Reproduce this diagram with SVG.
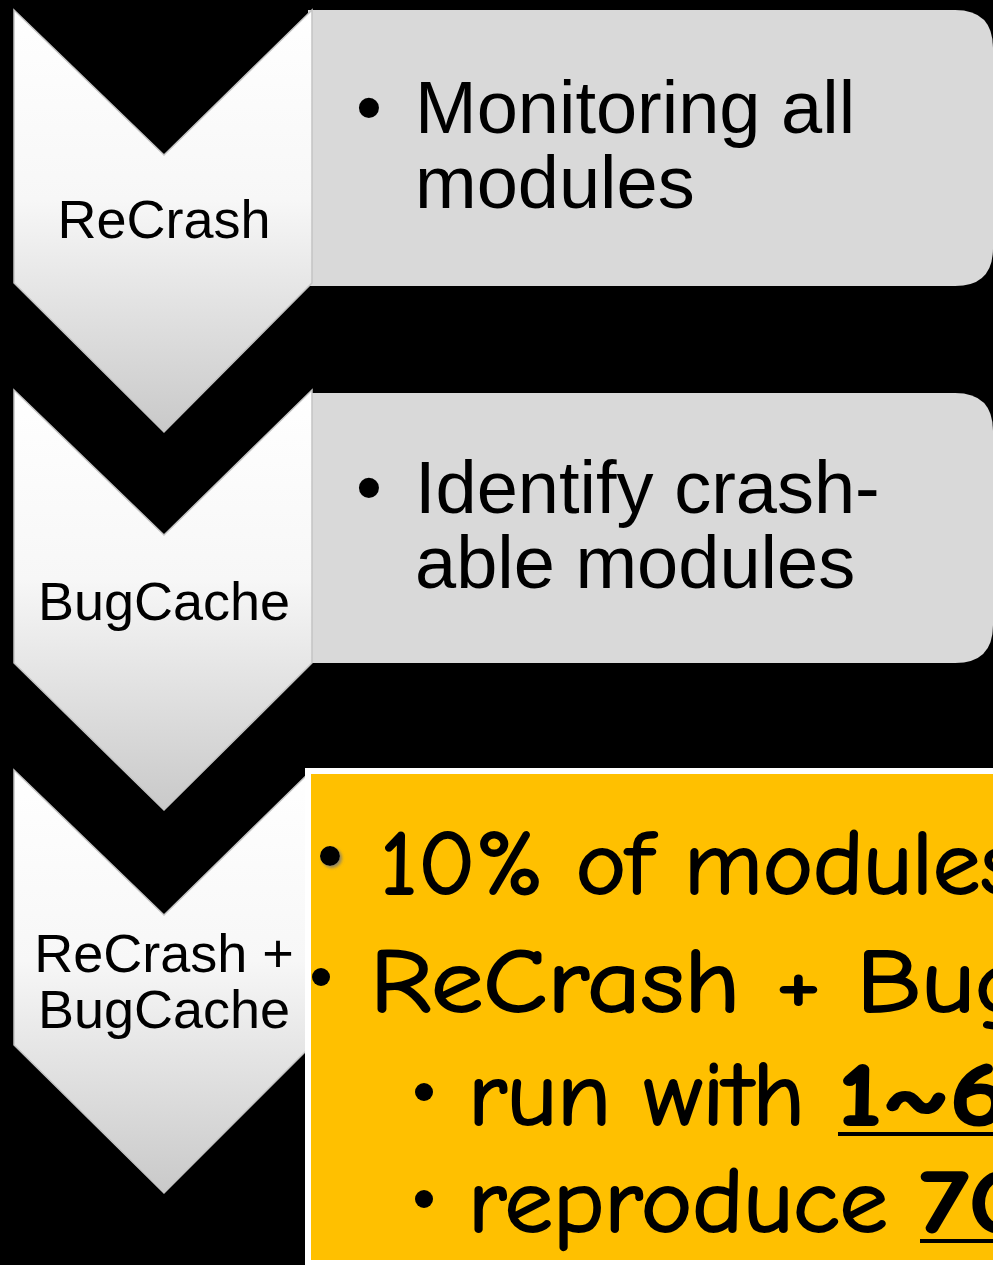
<svg xmlns="http://www.w3.org/2000/svg" width="993" height="1265" viewBox="0 0 993 1265">
  <defs>
    <linearGradient id="chevFill" x1="0" y1="0" x2="0" y2="1">
      <stop offset="0" stop-color="#ffffff"/>
      <stop offset="0.45" stop-color="#f7f7f7"/>
      <stop offset="1" stop-color="#c9c9c9"/>
    </linearGradient>
    <filter id="bulletShadow" x="-50%" y="-50%" width="200%" height="200%">
      <feDropShadow dx="2" dy="2" stdDeviation="1.5" flood-color="#777" flood-opacity="0.8"/>
    </filter>
  </defs>
  <style>
    .chev { fill: url(#chevFill); stroke: #c4c4c4; stroke-width: 1.5; }
    .box { fill: #d9d9d9; }
    .label { font-family: "Liberation Sans", Arial, sans-serif; font-size: 54px; fill: #000; text-anchor: middle; }
    .body { font-family: "Liberation Sans", Arial, sans-serif; font-size: 74px; fill: #000; }
    .hand { font-family: "Comic Sans MS", "Comic Neue", "DejaVu Sans", sans-serif; font-size: 90px; fill: #000; stroke: #000; stroke-width: 2; }
  </style>

  <rect x="0" y="0" width="993" height="1265" fill="#000"/>

  <!-- step 1 -->
  <g id="step1-box">
    <path class="box" d="M308 10 H955 Q993 10 993 48 V248 Q993 286 955 286 H308 Z"/>
    <text class="body" x="356" y="133">•</text>
    <text class="body" x="415" y="133">Monitoring all</text>
    <text class="body" x="415" y="208">modules</text>
  </g>
  <g id="step1-chevron">
    <path class="chev" d="M14 10 L164 155 L312 10 L312 283 L164 432 L14 283 Z"/>
    <text class="label" x="164" y="238">ReCrash</text>
  </g>

  <!-- step 2 -->
  <g id="step2-box">
    <path class="box" d="M308 393 H955 Q993 393 993 431 V625 Q993 663 955 663 H308 Z"/>
    <text class="body" x="356" y="513">•</text>
    <text class="body" x="415" y="513">Identify crash-</text>
    <text class="body" x="415" y="588">able modules</text>
  </g>
  <g id="step2-chevron">
    <path class="chev" d="M14 390 L164 535 L312 390 L312 663 L164 810 L14 663 Z"/>
    <text class="label" x="164" y="620">BugCache</text>
  </g>

  <!-- step 3 -->
  <g id="step3-chevron">
    <path class="chev" d="M14 770 L164 915 L312 770 L312 1045 L164 1193 L14 1045 Z"/>
    <text class="label" x="164" y="972">ReCrash +</text>
    <text class="label" x="164" y="1028">BugCache</text>
  </g>
  <g id="step3-box">
    <rect x="308" y="771" width="700" height="492" fill="#ffc000" stroke="#ffffff" stroke-width="6"/>
    <circle cx="330" cy="856" r="10" fill="#000" filter="url(#bulletShadow)"/>
    <text class="hand" x="380" y="894" textLength="640" lengthAdjust="spacingAndGlyphs">10% of modules</text>
    <circle cx="321" cy="977" r="9" fill="#000"/>
    <text class="hand" x="370" y="1012" textLength="660" lengthAdjust="spacingAndGlyphs">ReCrash + Bug</text>
    <circle cx="424" cy="1092" r="9" fill="#000"/>
    <text class="hand" x="468" y="1125" textLength="337" lengthAdjust="spacingAndGlyphs">run with</text>
    <text class="hand" x="838" y="1125" textLength="170" lengthAdjust="spacingAndGlyphs" font-weight="bold">1~6</text>
    <line x1="838" y1="1134" x2="993" y2="1134" stroke="#000" stroke-width="4"/>
    <circle cx="424" cy="1199" r="9" fill="#000"/>
    <text class="hand" x="468" y="1232" textLength="420" lengthAdjust="spacingAndGlyphs">reproduce</text>
    <text class="hand" x="920" y="1232" textLength="110" lengthAdjust="spacingAndGlyphs" font-weight="bold">70</text>
    <line x1="920" y1="1241" x2="993" y2="1241" stroke="#000" stroke-width="4"/>
  </g>
</svg>
